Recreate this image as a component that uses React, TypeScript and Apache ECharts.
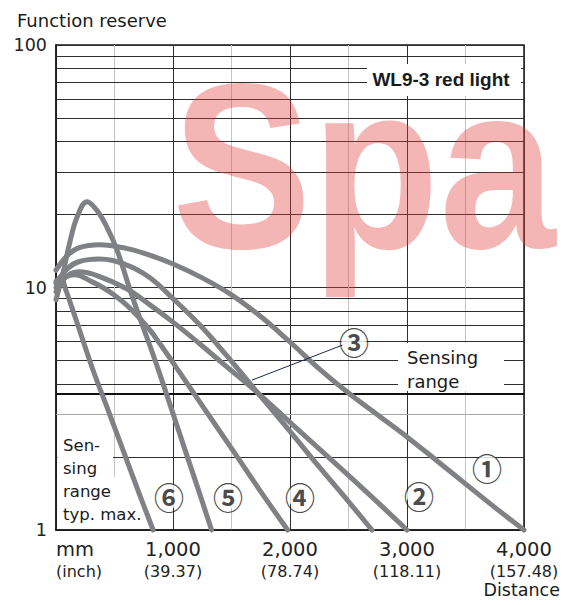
import React, { useEffect, useRef } from "react";
import * as echarts from "echarts";

// ---- data (distance in mm, function reserve) ----
const curve1 = [[0, 11.8], [100, 13.6], [200, 14.6], [370, 15.0], [600, 14.5], [800, 13.6], [1000, 12.5], [1250, 10.96], [1500, 9.33], [1750, 7.59], [2000, 5.96], [2250, 4.62], [2500, 3.67], [2750, 2.98], [3000, 2.42], [3250, 1.94], [3500, 1.55], [3750, 1.24], [4000, 1.0]];
const curve2 = [[0, 10.0], [100, 11.2], [200, 11.6], [350, 11.2], [600, 9.9], [800, 8.5], [1000, 7.2], [1230, 5.85], [1450, 4.75], [1726, 3.67], [2000, 2.78], [2250, 2.16], [2500, 1.68], [2750, 1.3], [3000, 1.0]];
const curve3 = [[0, 10.4], [100, 12.0], [200, 12.8], [370, 13.1], [600, 12.4], [800, 11.0], [1000, 9.0], [1230, 7.0], [1450, 5.3], [1726, 3.67], [2000, 2.55], [2250, 1.82], [2500, 1.31], [2700, 1.0]];
const curve4 = [[0, 9.6], [80, 11.0], [160, 11.3], [300, 10.6], [400, 10.0], [500, 9.3], [600, 8.5], [700, 7.6], [800, 6.7], [900, 5.75], [1000, 4.9], [1250, 3.26], [1500, 2.17], [1750, 1.44], [1980, 1.0]];
const curve5 = [[0, 8.9], [60, 11.5], [120, 15.5], [180, 19.5], [265, 22.6], [350, 20.8], [436, 17.7], [521, 14.3], [632, 9.8], [720, 7.4], [803, 5.75], [889, 4.37], [1000, 3.02], [1100, 2.16], [1200, 1.55], [1330, 1.0]];
const curve6 = [[0, 10.6], [40, 11.0], [80, 9.9], [150, 7.9], [200, 6.7], [316, 4.57], [450, 3.08], [600, 1.97], [700, 1.46], [830, 1.0]];

const curves = [curve1, curve2, curve3, curve4, curve5, curve6];
const curveNames = ["①", "②", "③", "④", "⑤", "⑥"];
const labelAnchors = [[3684, 1.82], [3103, 1.39], [2547, 6.0], [2085, 1.38], [1470, 1.38], [966, 1.38]];
const leader3 = [[2453, 5.8], [1675, 4.15]];
const yMinorGrid = [2, 3, 4, 5, 6, 7, 8, 9, 20, 30, 40, 50, 60, 70, 80, 90];
const yGreyGrid = [3];
const sensingThreshold = 3.63;
const xTickMm = ["mm", "1,000", "2,000", "3,000", "4,000"];
const xTickInch = ["(inch)", "(39.37)", "(78.74)", "(118.11)", "(157.48)"];

const FONT = "'DejaVu Sans', sans-serif";
const CURVE_COLOR = "#808185";
const INK = "#1a1a1a";

export default function App() {
  const ref = useRef<HTMLDivElement>(null);

  useEffect(() => {
    if (!ref.current) return;
    const chart = echarts.init(ref.current, undefined, { renderer: "svg" });

    const curveSeries = curves.map((data, i) => {
      const s: any = {
        type: "line",
        name: curveNames[i],
        data,
        smooth: 0.4,
        symbol: "none",
        clip: false,
        silent: true,
        z: 2,
        lineStyle: { color: CURVE_COLOR, width: 5, cap: "round", join: "round" },
      };
      if (i === 0) {
        s.markLine = {
          z: 1,
          silent: true,
          symbol: ["none", "none"],
          label: { show: false },
          animation: false,
          data: [
            ...yMinorGrid.map((v) => ({
              yAxis: v,
              lineStyle: {
                color: yGreyGrid.includes(v) ? "#a8a8a8" : "#2e2e2e",
                width: 1,
                type: "solid",
              },
            })),
            { yAxis: sensingThreshold, lineStyle: { color: "#111", width: 2, type: "solid" } },
          ],
        };
      }
      return s;
    });

    const option: any = {
      animation: false,
      textStyle: { fontFamily: FONT },
      grid: {
        left: 56,
        right: 39,
        top: 45,
        bottom: 75,
        show: true,
        borderColor: INK,
        borderWidth: 1.5,
        outerBoundsMode: "none",
        containLabel: false,
      },
      xAxis: {
        type: "value",
        min: 0,
        max: 4000,
        interval: 1000,
        axisLine: { show: true, lineStyle: { color: INK, width: 1.5 } },
        axisTick: { show: false },
        splitLine: { show: true, lineStyle: { color: "#2e2e2e", width: 1 } },
        minorTick: { show: false, splitNumber: 2 },
        minorSplitLine: { show: true, lineStyle: { color: "#c4c4c4", width: 1 } },
        axisLabel: {
          margin: 8,
          alignMinLabel: "left",
          formatter: (v: number) => {
            const i = Math.round(v / 1000);
            return `{a|${xTickMm[i]}}\n{b|${xTickInch[i]}}`;
          },
          rich: {
            a: { fontSize: 19.5, lineHeight: 22, color: "#222", fontFamily: FONT },
            b: { fontSize: 16, lineHeight: 22, color: "#222", fontFamily: FONT },
          },
        },
      },
      yAxis: {
        type: "log",
        logBase: 10,
        min: 1,
        max: 100,
        axisLine: { show: true, lineStyle: { color: INK, width: 1.5 } },
        axisTick: { show: false },
        splitLine: { show: true, lineStyle: { color: "#2e2e2e", width: 1 } },
        axisLabel: { fontSize: 17.5, color: "#222", margin: 9, fontFamily: FONT },
      },
      series: [
        ...curveSeries,
        {
          type: "line",
          data: leader3,
          symbol: "none",
          silent: true,
          z: 2.5,
          lineStyle: { color: "#1c2a52", width: 1 },
        },
        {
          type: "scatter",
          z: 3,
          silent: true,
          data: labelAnchors.map((p, i) => ({ name: curveNames[i], value: p })),
          symbol: "circle",
          symbolSize: 25,
          itemStyle: { color: "#fff" },
          label: {
            show: true,
            position: "inside",
            formatter: "{b}",
            fontSize: 30,
            fontWeight: "bold",
            color: INK,
            fontFamily: "'Noto Sans CJK JP', 'DejaVu Sans', sans-serif",
          },
        },
      ],
      graphic: {
        elements: [
          { type: "rect", z: 1.5, silent: true, shape: { x: 367, y: 64, width: 154, height: 32 }, style: { fill: "#fff" } },
          {
            type: "text", z: 1.6, x: 441, y: 79, silent: true,
            style: { text: "WL9-3 red light", fontSize: 19, fontWeight: "bold", fontFamily: "'Liberation Sans', sans-serif", fill: INK, align: "center", verticalAlign: "middle" },
          },
          { type: "rect", z: 1.5, silent: true, shape: { x: 398, y: 343, width: 106, height: 48 }, style: { fill: "#fff" } },
          {
            type: "text", z: 1.6, x: 407, y: 345.75, silent: true,
            style: { text: "Sensing\nrange", fontSize: 18, lineHeight: 23.5, fontFamily: FONT, fill: INK, align: "left", verticalAlign: "top" },
          },
          { type: "rect", z: 1.5, silent: true, shape: { x: 57.5, y: 434, width: 55.5, height: 44 }, style: { fill: "#fff" } },
          { type: "rect", z: 1.5, silent: true, shape: { x: 57.5, y: 477, width: 84, height: 52 }, style: { fill: "#fff" } },
          {
            type: "text", z: 1.6, x: 63, y: 433.5, silent: true,
            style: { text: "Sen-\nsing\nrange\ntyp. max.", fontSize: 16.5, lineHeight: 23, fontFamily: FONT, fill: INK, align: "left", verticalAlign: "top" },
          },
          {
            type: "text", z: 1.6, x: 17, y: 20, silent: true,
            style: { text: "Function reserve", fontSize: 18, fontFamily: FONT, fill: INK, align: "left", verticalAlign: "middle" },
          },
          {
            type: "text", z: 1.6, x: 560, y: 590, silent: true,
            style: { text: "Distance", fontSize: 17.5, fontFamily: FONT, fill: INK, align: "right", verticalAlign: "middle" },
          },
          {
            type: "text", z: 10, x: 172, y: 167, scaleX: 0.89, silent: true,
            style: { text: "Spa", fontSize: 235, fontWeight: "bold", fontFamily: "'Liberation Sans', sans-serif", fill: "rgba(225,60,60,0.38)", align: "left", verticalAlign: "middle" },
          },
        ],
      },
    };

    chart.setOption(option);
    return () => chart.dispose();
  }, []);

  return (
    <div
      ref={ref}
      style={{ position: "fixed", left: 0, top: 0, width: 563, height: 605, background: "#fff" }}
    />
  );
}
